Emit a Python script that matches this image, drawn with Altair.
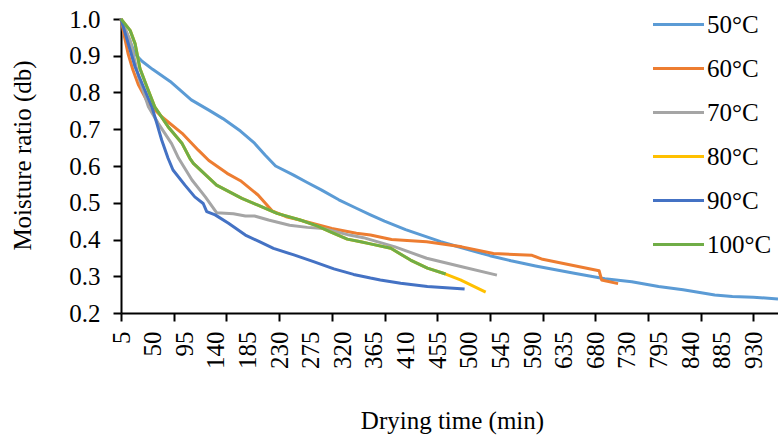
import altair as alt
import numpy as np
import pandas as pd

FONT = "Liberation Serif"

series = ["50°C", "60°C", "70°C", "80°C", "90°C", "100°C"]
colors = ["#5B9BD5", "#ED7D31", "#A5A5A5", "#FFC000", "#4472C4", "#70AD47"]

# category-axis labels (Excel line chart, one category per reading)
tick_label_times = [5, 50, 95, 140, 185, 230, 275, 320, 365, 410, 455, 500,
                    545, 590, 635, 680, 730, 795, 840, 885, 930]
tick_label_pos = list(range(0, 181, 9))
last_time, last_pos = 965, 187
tick_mark_step = 15

t50 = [5, 25, 35, 50, 75, 105, 130, 150, 175, 195, 210, 225, 250, 270, 290, 315,
       340, 360, 380, 410, 460, 500, 530, 560, 595, 650, 695, 740, 795, 830, 875,
       900, 930, 965]
v50 = [1.0, 0.905, 0.885, 0.863, 0.830, 0.780, 0.752, 0.729, 0.695, 0.662, 0.630,
       0.600, 0.576, 0.555, 0.535, 0.508, 0.485, 0.467, 0.450, 0.427, 0.394, 0.372,
       0.356, 0.342, 0.328, 0.308, 0.293, 0.285, 0.272, 0.263, 0.249, 0.245, 0.243,
       0.238]

t60 = [5, 10, 15, 22, 30, 44, 63, 92, 115, 130, 156, 175, 200, 220, 240, 270, 305,
       340, 360, 390, 440, 490, 535, 590, 605, 686, 690, 716]
v60 = [1.0, 0.951, 0.906, 0.861, 0.820, 0.770, 0.734, 0.689, 0.643, 0.615, 0.580,
       0.560, 0.521, 0.478, 0.462, 0.448, 0.430, 0.417, 0.412, 0.400, 0.394, 0.380,
       0.362, 0.357, 0.346, 0.315, 0.290, 0.280]

t70 = [5, 18, 30, 44, 58, 77, 87, 106, 125, 141, 165, 182, 195, 215, 245, 270, 293,
       330, 350, 395, 440, 490, 540]
v70 = [1.0, 0.942, 0.842, 0.761, 0.716, 0.661, 0.621, 0.562, 0.516, 0.473, 0.470,
       0.464, 0.464, 0.453, 0.439, 0.433, 0.430, 0.412, 0.405, 0.380, 0.349, 0.326,
       0.303]

t80 = [5, 18, 25, 32, 42, 53, 72, 92, 103, 108, 141, 177, 199, 227, 260, 284, 303,
       327, 346, 360, 389, 417, 441, 467, 488, 524]
v80 = [1.0, 0.969, 0.933, 0.865, 0.815, 0.761, 0.707, 0.661, 0.621, 0.607, 0.548,
       0.512, 0.494, 0.471, 0.453, 0.437, 0.421, 0.401, 0.394, 0.388, 0.376, 0.344,
       0.322, 0.306, 0.290, 0.257]

t90 = [5, 25, 39, 49, 56, 63, 72, 79, 96, 110, 122, 127, 139, 158, 182, 202, 222,
       251, 279, 308, 336, 360, 374, 403, 441, 494]
v90 = [1.0, 0.870, 0.806, 0.761, 0.716, 0.670, 0.621, 0.589, 0.548, 0.516, 0.498,
       0.476, 0.467, 0.444, 0.412, 0.394, 0.376, 0.358, 0.340, 0.320, 0.305, 0.295,
       0.290, 0.281, 0.272, 0.265]

t100 = [5, 18, 25, 32, 42, 53, 72, 92, 103, 108, 141, 177, 199, 227, 260, 284, 303,
        327, 346, 360, 389, 417, 441, 467]
v100 = [1.0, 0.969, 0.933, 0.865, 0.815, 0.761, 0.707, 0.661, 0.621, 0.607, 0.548,
        0.512, 0.494, 0.471, 0.453, 0.437, 0.421, 0.401, 0.394, 0.388, 0.376, 0.344,
        0.322, 0.306]

y_ticks = [0.2, 0.3, 0.4, 0.5, 0.6, 0.7, 0.8, 0.9, 1.0]

all_t = [t50, t60, t70, t80, t90, t100]
all_v = [v50, v60, v70, v80, v90, v100]

map_times = tick_label_times + [last_time]
map_pos = tick_label_pos + [last_pos]

rows = []
for name, ts, vs in zip(series, all_t, all_v):
    for i, (t, v) in enumerate(zip(ts, vs)):
        rows.append({"series": name, "time": t, "order": i,
                     "pos": float(np.interp(t, map_times, map_pos)), "mr": v})
df = pd.DataFrame(rows)

tick_marks = list(range(0, tick_label_pos[-1] + 1, tick_mark_step))
axis_values = sorted(set(tick_label_pos) | set(tick_marks))
pos_arr = "[" + ",".join(str(p) for p in tick_label_pos) + "]"
lab_arr = "[" + ",".join("'%d'" % t for t in tick_label_times) + "]"
label_expr = (f"indexof({pos_arr}, datum.value) >= 0 ? "
              f"{lab_arr}[indexof({pos_arr}, datum.value)] : ''")

x_axis = alt.Axis(
    values=axis_values, labelExpr=label_expr, labelAngle=-90, labelOverlap=False,
    labelFlush=False, labelFont=FONT, labelFontSize=25, labelColor="black",
    labelPadding=10, tickSize=8, tickWidth=2,
    tickColor={"condition": {"test": f"datum.value % {tick_mark_step} === 0",
                             "value": "black"}, "value": "transparent"},
    domainColor="black", domainWidth=2, grid=False,
    title="Drying time (min)", titleFont=FONT, titleFontSize=25,
    titleFontWeight="normal", titleColor="black", titleX=331, titleY=107,
    titleBaseline="middle", titleAlign="center")

y_axis = alt.Axis(
    values=y_ticks, format=".1f", labelFont=FONT, labelFontSize=25,
    labelColor="black", labelPadding=13, tickSize=8, tickWidth=2, tickColor="black",
    domainColor="black", domainWidth=2, grid=False,
    title="Moisture ratio (db)", titleFont=FONT, titleFontSize=25,
    titleFontWeight="normal", titleColor="black", titleX=-99, titleY=136,
    titleAngle=-90, titleBaseline="middle", titleAlign="center")

legend = alt.Legend(
    title=None, orient="none", legendX=543, legendY=-9, symbolType="M-2,0H2",
    symbolSize=650, symbolStrokeWidth=3, labelFont=FONT, labelFontSize=25,
    labelColor="black", rowPadding=16, labelOffset=14, padding=0)

chart = alt.Chart(df).mark_line(strokeWidth=3, strokeJoin="round").encode(
    x=alt.X("pos:Q", scale=alt.Scale(domain=[0, last_pos], nice=False, zero=False),
            axis=x_axis),
    y=alt.Y("mr:Q", scale=alt.Scale(domain=[0.2, 1.0], nice=False, zero=False),
            axis=y_axis),
    color=alt.Color("series:N", scale=alt.Scale(domain=series, range=colors),
                    legend=legend),
    order="order:Q",
).properties(
    width=657, height=294,
    autosize=alt.AutoSizeParams(type="none"),
    padding={"left": 121, "top": 19, "right": 0, "bottom": 123},
    background="white",
).configure_view(stroke=None)

chart.save("out.html", embed_options={"renderer": "svg", "actions": False})
